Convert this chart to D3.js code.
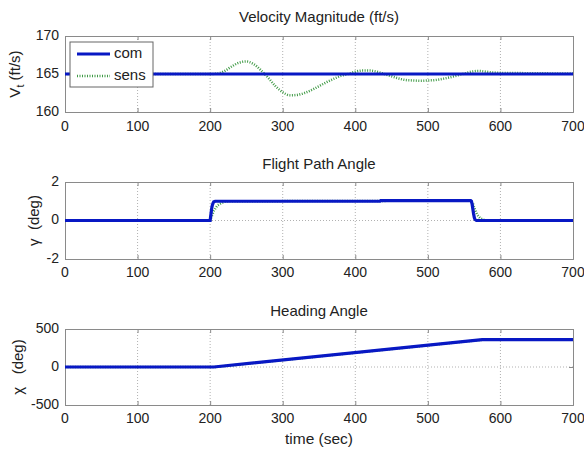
<!DOCTYPE html>
<html>
<head>
<meta charset="utf-8">
<script src="https://cdn.jsdelivr.net/npm/d3@7"></script>
<style>
  body { margin: 0; background: #fff; }
  svg text { font-family: "Liberation Sans", Arial, sans-serif; fill: #222; white-space: pre; }
</style>
</head>
<body>
<svg id="chart" width="584" height="451"></svg>
<script>
"use strict";

// x axis shared by all three panels
const x_ticks = [0, 100, 200, 300, 400, 500, 600, 700];

// velocity magnitude (ft/s)
const vel_com_t = [0, 700];
const vel_com = [165, 165];
const vel_sens_t = [0, 200, 210, 220, 230, 240, 250, 260, 270, 280, 290, 300, 310, 320, 330, 340, 350,
  360, 370, 380, 390, 400, 410, 420, 430, 440, 450, 460, 470, 480, 490, 500, 510, 520, 530, 540,
  550, 560, 570, 580, 590, 600, 650, 700];
const vel_sens = [165, 165, 165.05, 165.4, 166.0, 166.5, 166.65, 166.3, 165.5, 164.5, 163.4, 162.6, 162.2,
  162.25, 162.5, 162.9, 163.4, 163.9, 164.35, 164.75, 165.0, 165.3, 165.45, 165.45, 165.3, 165.0,
  164.7, 164.4, 164.2, 164.15, 164.1, 164.15, 164.2, 164.35, 164.55, 164.8, 165.05, 165.3, 165.4,
  165.3, 165.2, 165.15, 165.1, 165.05];
const vel_ticks = [160, 165, 170];

// flight path angle (deg)
const gam_com_t = [0, 200, 201, 202, 203, 204, 205, 207, 434, 435, 559, 560, 561, 562, 563, 564, 565, 567, 700];
const gam_com = [0, 0, 0.3, 0.6, 0.8, 0.9, 0.97, 1.0, 1.0, 1.03, 1.03, 1.0, 0.85, 0.6, 0.35, 0.15, 0.05, 0, 0];
const gam_sens_t = [0, 200, 202, 205, 210, 215, 220, 225, 559, 562, 565, 568, 572, 576, 580, 630];
const gam_sens = [0, 0, 0.2, 0.5, 0.78, 0.9, 0.97, 1.0, 1.03, 0.9, 0.55, 0.3, 0.12, 0.04, 0, 0];
const gam_ticks = [-2, 0, 2];

// heading angle (deg)
const head_com_t = [0, 205, 575, 700];
const head_com = [0, 0, 360, 360];
const head_sens_t = [0, 207, 577, 700];
const head_sens = [0, 0, 360, 360];
const head_ticks = [-500, 0, 500];

const svg = d3.select("#chart");
const left = 65, right = 573;

const x_scale = d3.scaleLinear().domain([0, 700]).range([left, right]);

const blue = "#0818c4";
const green = "#3f9a45";
const frame = "#8a8a8a";
const grid = "#a8a8a8";

const panels = [
  { title: "Velocity Magnitude (ft/s)", title_y: 18, top: 36, bottom: 112,
    ticks: vel_ticks, ylab: "vt", ylab_x: 20, tick_lab_y: 131, curve: d3.curveMonotoneX,
    com_t: vel_com_t, com: vel_com, sens_t: vel_sens_t, sens: vel_sens, legend: true },
  { title: "Flight Path Angle", title_y: 165, top: 182, bottom: 259,
    ticks: gam_ticks, ylab: "\u03b3  (deg)", ylab_x: 39, tick_lab_y: 277, curve: d3.curveLinear,
    com_t: gam_com_t, com: gam_com, sens_t: gam_sens_t, sens: gam_sens },
  { title: "Heading Angle", title_y: 312, top: 329, bottom: 405,
    ticks: head_ticks, ylab: "\u03c7   (deg)", ylab_x: 23, tick_lab_y: 423, curve: d3.curveLinear,
    com_t: head_com_t, com: head_com, sens_t: head_sens_t, sens: head_sens, xlab: "time (sec)" }
];

panels.forEach((p, i) => {
  const y_scale = d3.scaleLinear().domain([p.ticks[0], p.ticks[p.ticks.length - 1]]).range([p.bottom, p.top]);
  const g = svg.append("g");
  const clip_id = "clip" + i;

  g.append("clipPath").attr("id", clip_id)
    .append("rect")
    .attr("x", left).attr("y", p.top)
    .attr("width", right - left).attr("height", p.bottom - p.top);

  // grid
  g.selectAll(".vgrid").data(x_ticks.slice(1, -1)).enter().append("line")
    .attr("x1", d => x_scale(d)).attr("x2", d => x_scale(d))
    .attr("y1", p.top).attr("y2", p.bottom)
    .attr("stroke", grid).attr("stroke-width", 0.9).attr("stroke-dasharray", "1,2");
  g.selectAll(".hgrid").data(p.ticks.slice(1, -1)).enter().append("line")
    .attr("x1", left).attr("x2", right)
    .attr("y1", d => y_scale(d)).attr("y2", d => y_scale(d))
    .attr("stroke", grid).attr("stroke-width", 0.9).attr("stroke-dasharray", "1,2");

  // axes with inward ticks
  const x_bottom = d3.axisBottom(x_scale).tickValues(x_ticks).tickSize(-4).tickFormat("");
  const x_top = d3.axisTop(x_scale).tickValues(x_ticks).tickSize(-4).tickFormat("");
  const y_left = d3.axisLeft(y_scale).tickValues(p.ticks).tickSize(-4).tickFormat("");
  const y_right = d3.axisRight(y_scale).tickValues(p.ticks).tickSize(-4).tickFormat("");
  [[x_bottom, `translate(0,${p.bottom})`], [x_top, `translate(0,${p.top})`],
   [y_left, `translate(${left},0)`], [y_right, `translate(${right},0)`]].forEach(([ax, tr]) => {
    const a = g.append("g").attr("transform", tr).call(ax);
    a.selectAll("path,line").attr("stroke", frame);
  });

  // tick labels
  g.selectAll(".xl").data(x_ticks).enter().append("text")
    .attr("x", d => x_scale(d)).attr("y", p.tick_lab_y)
    .attr("text-anchor", "middle").attr("font-size", 14)
    .text(d => d);
  g.selectAll(".yl").data(p.ticks).enter().append("text")
    .attr("x", left - 6).attr("y", d => y_scale(d))
    .attr("dominant-baseline", "middle").attr("text-anchor", "end").attr("font-size", 14)
    .text(d => d);

  // title
  g.append("text").attr("x", (left + right) / 2).attr("y", p.title_y)
    .attr("text-anchor", "middle").attr("dominant-baseline", "middle").attr("font-size", 15)
    .text(p.title);

  // y label
  const yl = g.append("text")
    .attr("transform", `translate(${p.ylab_x},${(p.top + p.bottom) / 2}) rotate(-90)`)
    .attr("text-anchor", "middle").attr("font-size", 15);
  if (p.ylab === "vt") {
    yl.append("tspan").text("V");
    yl.append("tspan").attr("font-size", 11).attr("dy", 4).text("t");
    yl.append("tspan").attr("dy", -4).text(" (ft/s)");
  } else {
    yl.text(p.ylab);
  }

  // lines
  const line = d3.line().x(d => x_scale(d[0])).y(d => y_scale(d[1])).curve(p.curve);
  const plot = g.append("g").attr("clip-path", `url(#${clip_id})`);
  plot.append("path")
    .datum(d3.zip(p.sens_t, p.sens))
    .attr("d", line)
    .attr("fill", "none").attr("stroke", green).attr("stroke-width", 2.5)
    .attr("stroke-dasharray", "1,1.5");
  plot.append("path")
    .datum(d3.zip(p.com_t, p.com))
    .attr("d", line)
    .attr("fill", "none").attr("stroke", blue).attr("stroke-width", 3.2);

  if (p.xlab) {
    g.append("text").attr("x", (left + right) / 2).attr("y", 444)
      .attr("text-anchor", "middle").attr("font-size", 15.5).text(p.xlab);
  }

  if (p.legend) {
    const lg = g.append("g");
    lg.append("rect").attr("x", 70).attr("y", 42).attr("width", 83).attr("height", 45)
      .attr("fill", "#fff").attr("stroke", "#666").attr("stroke-width", 1);
    lg.append("line").attr("x1", 77).attr("x2", 110).attr("y1", 54).attr("y2", 54)
      .attr("stroke", blue).attr("stroke-width", 3.2);
    lg.append("line").attr("x1", 77).attr("x2", 110).attr("y1", 76).attr("y2", 76)
      .attr("stroke", green).attr("stroke-width", 2.5).attr("stroke-dasharray", "1,1.5");
    lg.append("text").attr("x", 114).attr("y", 54).attr("dominant-baseline", "middle")
      .attr("font-size", 15).text("com");
    lg.append("text").attr("x", 114).attr("y", 76).attr("dominant-baseline", "middle")
      .attr("font-size", 15).text("sens");
  }
});
</script>
</body>
</html>
